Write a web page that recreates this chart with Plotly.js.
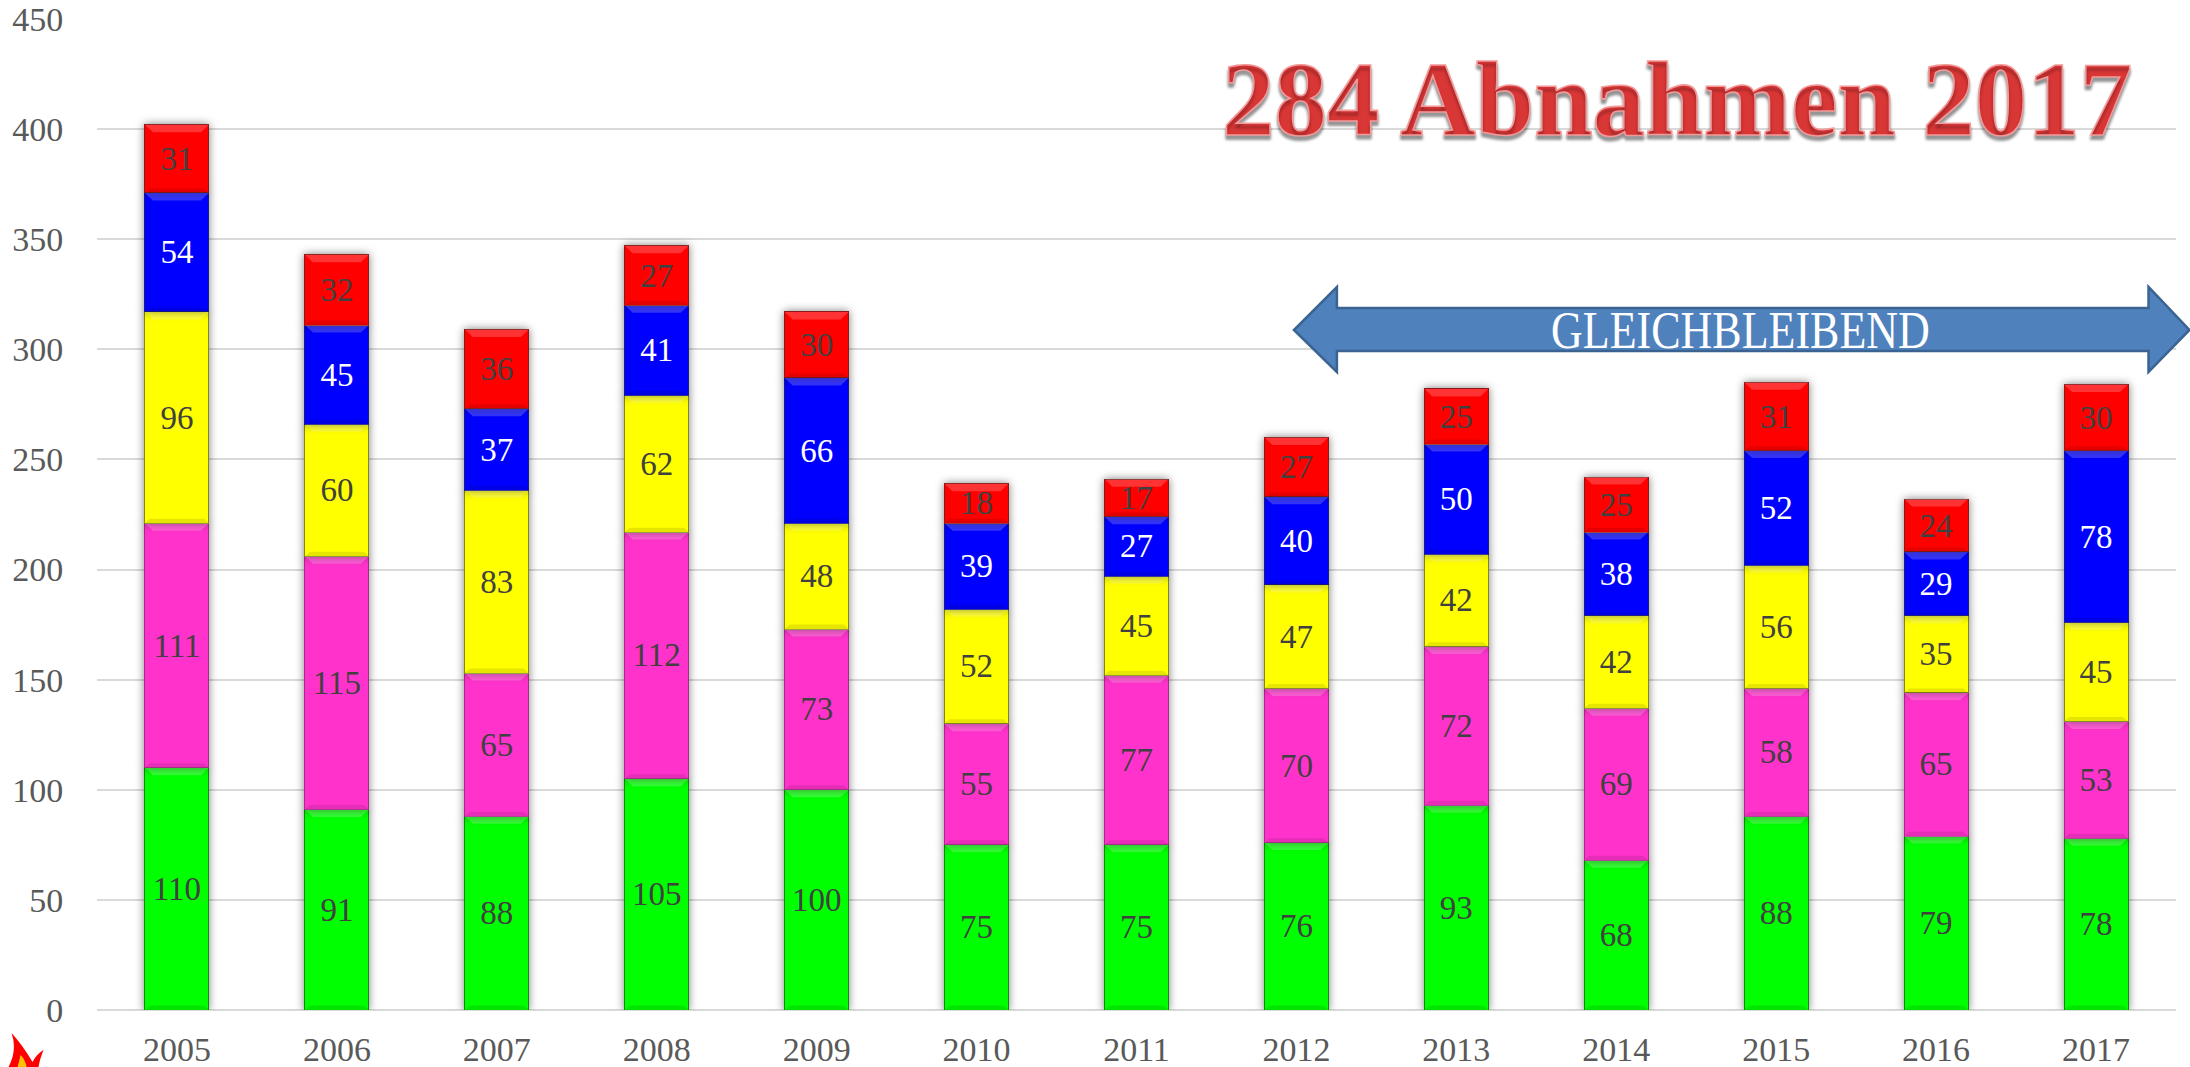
<!DOCTYPE html>
<html><head><meta charset="utf-8">
<script src="https://cdn.plot.ly/plotly-3.0.1.min.js"></script>
<style>
html,body{margin:0;padding:0;background:#fff;overflow:hidden}
#chart{width:2190px;height:1067px}
.barlayer .point path{filter:drop-shadow(0 0 4px rgba(0,0,0,.5))}
.annotation[data-index="0"] text{stroke:#f29a9a;stroke-width:1.6px;fill:#d93636 !important}
.annotation[data-index="1"] text{transform-box:fill-box;transform-origin:center;transform:scaleY(1.18)}
</style></head><body><div id="chart"></div>
<script>
const years=['2005','2006','2007','2008','2009','2010','2011','2012','2013','2014','2015','2016','2017'];
const greenValues=[110,91,88,105,100,75,75,76,93,68,88,79,78];
const magentaValues=[111,115,65,112,73,55,77,70,72,69,58,65,53];
const yellowValues=[96,60,83,62,48,52,45,47,42,42,56,35,45];
const blueValues=[54,45,37,41,66,39,27,40,50,38,52,29,78];
const redValues=[31,32,36,27,30,18,17,27,25,25,31,24,30];
const titleText='284 Abnahmen 2017';
const arrowText='GLEICHBLEIBEND';
const FONT='"Liberation Serif", serif';
const W=2190,H=1067,L=96.5,R=13.5,T=19,B=57;
const series=[
 [greenValues,'#00ff00','#404040','#128a12'],
 [magentaValues,'#ff33cc','#404040','#a82a88'],
 [yellowValues,'#ffff00','#404040','#85851a'],
 [blueValues,'#0000ff','#ffffff','#1a1a8a'],
 [redValues,'#ff0000','#404040','#8a1a1a']];
const traces=series.map(s=>({type:'bar',x:years,y:s[0],text:s[0].map(String),
 textposition:'inside',insidetextanchor:'middle',textangle:0,constraintext:'none',
 textfont:{family:FONT,size:33,color:s[2]},
 marker:{color:s[1],line:{color:s[3],width:1}},hoverinfo:'x+y'}));
const px=x=>(x-L)/(W-L-R), py=y=>(H-B-y)/(H-T-B);
const P=(x,y)=>px(x).toFixed(5)+','+py(y).toFixed(5);
const pth=pts=>'M'+pts.map(p=>P(p[0],p[1])).join('L')+'Z';
const shapes=[];
// bevel on each stacked segment, placed from the data through the axes
const halfW=0.2,dx=0.05,dy=3.4;
years.forEach((yr,i)=>{
 let base=0;
 series.forEach(s=>{
  const top=base+s[0][i];
  const l=i-halfW,r=i+halfW;
  shapes.push({type:'path',xref:'x',yref:'y',layer:'above',line:{width:0},fillcolor:'rgba(255,255,255,0.2)',
   path:`M${l},${top}L${r},${top}L${r-dx},${top-dy}L${l+dx},${top-dy}Z`});
  shapes.push({type:'path',xref:'x',yref:'y',layer:'above',line:{width:0},fillcolor:'rgba(0,0,0,0.10)',
   path:`M${l},${base}L${r},${base}L${r-dx*0.6},${base+dy*0.6}L${l+dx*0.6},${base+dy*0.6}Z`});
  base=top;
 });
});
shapes.push(
 {type:'path',xref:'paper',yref:'paper',layer:'above',
  path:pth([[2190,330],[2149,287],[2149,308],[1337,308],[1337,287],[1294,330],[1337,372],[1337,351],[2149,351],[2149,372]]),
  fillcolor:'#4f81bd',line:{color:'#3a6391',width:2.5}},
 {type:'path',xref:'paper',yref:'paper',layer:'above',
  path:'M'+P(8,1067)+'Q'+P(17,1050)+' '+P(11,1033)+'Q'+P(22,1045)+' '+P(32,1062)+'Q'+P(36,1054)+' '+P(43,1050)+'Q'+P(39,1060)+' '+P(38,1067)+'Z',
  fillcolor:'#ff0000',line:{width:0}},
 {type:'path',xref:'paper',yref:'paper',layer:'above',
  path:'M'+P(17,1067)+'Q'+P(19,1060)+' '+P(20,1055)+'Q'+P(25,1060)+' '+P(26,1067)+'Z',
  fillcolor:'#ffc000',line:{width:0}}
);
const layout={width:W,height:H,paper_bgcolor:'#fff',plot_bgcolor:'#fff',showlegend:false,barmode:'stack',bargap:0.6,
 margin:{l:L,r:R,t:T,b:B,pad:0},font:{family:FONT,color:'#595959'},
 xaxis:{type:'category',range:[-0.5,12.5],showgrid:false,showline:false,zeroline:false,ticks:'outside',ticklen:9,tickcolor:'rgba(0,0,0,0)',
  tickfont:{family:FONT,size:34,color:'#595959'},automargin:false},
 yaxis:{range:[0,450],tick0:0,dtick:50,gridcolor:'#d9d9d9',gridwidth:2,zeroline:true,zerolinecolor:'#d9d9d9',zerolinewidth:2,
  ticks:'outside',ticklen:26,tickcolor:'rgba(0,0,0,0)',tickfont:{family:FONT,size:34,color:'#595959'},automargin:false},
 shapes:shapes,
 annotations:[
  {xref:'paper',yref:'paper',x:px(1677),y:py(99),xanchor:'center',yanchor:'middle',showarrow:false,text:titleText,
   font:{family:FONT,size:105,color:'#d93a3a',weight:700,shadow:'0px 4px 3px rgba(0,0,0,.4)'}},
  {xref:'paper',yref:'paper',x:px(1741),y:py(331),xanchor:'center',yanchor:'middle',showarrow:false,text:arrowText,
   font:{family:FONT,size:44,color:'#ffffff'}}
 ]};
Plotly.newPlot('chart',traces,layout,{displayModeBar:false,staticPlot:true});
</script></body></html>
